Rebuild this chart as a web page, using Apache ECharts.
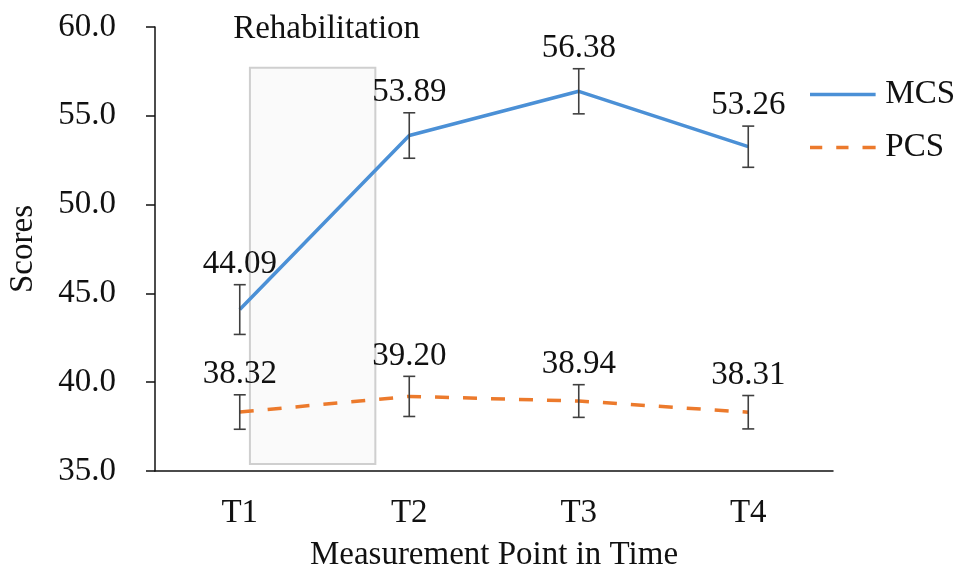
<!DOCTYPE html>
<html>
<head>
<meta charset="utf-8">
<script src="https://cdn.jsdelivr.net/npm/echarts@6/dist/echarts.min.js"></script>
<style>html,body{margin:0;padding:0;background:#fff}#c{width:965px;height:573px}</style>
</head>
<body>
<div id="c"></div>
<script>
var categories = ['T1', 'T2', 'T3', 'T4'];
var mcsValues = [44.09, 53.89, 56.38, 53.26];
var mcsErrors = [1.40, 1.28, 1.27, 1.16];
var pcsValues = [38.32, 39.20, 38.94, 38.31];
var pcsErrors = [0.97, 1.13, 0.92, 0.94];
var yTicks = [35, 40, 45, 50, 55, 60];
// rehabilitation period box, in category-index units and score units
var rehabBox = [0.06, 0.80, 35.4, 57.7];
var rehabLabel = 'Rehabilitation';

var FONT = '"Liberation Serif", "Times New Roman", serif';
var FS = 33;

function errData(vals, errs) {
  return vals.map(function (v, i) { return [i, v, errs[i]]; });
}

function errRender(params, api) {
  var i = api.value(0), v = api.value(1), e = api.value(2);
  var top = api.coord([i, v + e]);
  var bot = api.coord([i, v - e]);
  var cap = 6;
  var st = { stroke: '#404040', lineWidth: 1.6 };
  return {
    type: 'group',
    children: [
      { type: 'line', shape: { x1: top[0], y1: top[1], x2: bot[0], y2: bot[1] }, style: st },
      { type: 'line', shape: { x1: top[0] - cap, y1: top[1], x2: top[0] + cap, y2: top[1] }, style: st },
      { type: 'line', shape: { x1: bot[0] - cap, y1: bot[1], x2: bot[0] + cap, y2: bot[1] }, style: st },
      { type: 'text', style: { text: v.toFixed(2), x: top[0], y: top[1] - 4, align: 'center', verticalAlign: 'bottom', font: FS + 'px ' + FONT, fill: '#111' } }
    ]
  };
}

var chart = echarts.init(document.getElementById('c'));
chart.setOption({
  animation: false,
  backgroundColor: '#fff',
  grid: { left: 155, right: 132, top: 27, bottom: 102, containLabel: false, outerBoundsMode: 'none' },
  legend: {
    orient: 'vertical', left: 805, top: 73, itemGap: 20, itemWidth: 75, itemHeight: 3.5,
    textStyle: { fontFamily: FONT, fontSize: FS, color: '#111' },
    data: [
      { name: 'MCS', icon: 'path://M0,0L75,0L75,4L0,4Z', itemStyle: { color: '#4b90d6' } },
      { name: 'PCS', icon: 'path://M0,0L14,0L14,4L0,4ZM30,0L44,0L44,4L30,4ZM60,0L75,0L75,4L60,4Z', itemStyle: { color: '#ec7a2c' } }
    ]
  },
  xAxis: {
    type: 'category', data: categories, boundaryGap: true,
    name: 'Measurement Point in Time', nameLocation: 'middle', nameGap: 68,
    nameTextStyle: { fontFamily: FONT, fontSize: FS, color: '#111' },
    axisLine: { lineStyle: { color: '#111', width: 1.5 } },
    axisTick: { alignWithLabel: true, length: 7, lineStyle: { color: '#111', width: 1.5 } },
    axisLabel: { fontFamily: FONT, fontSize: FS, color: '#111', margin: 26 },
    splitLine: { show: false }
  },
  yAxis: {
    type: 'value', min: yTicks[0], max: yTicks[yTicks.length - 1], interval: 5,
    name: 'Scores', nameLocation: 'middle', nameGap: 115, nameRotate: 90,
    nameTextStyle: { fontFamily: FONT, fontSize: FS, color: '#111' },
    axisLine: { show: true, lineStyle: { color: '#111', width: 1.5 } },
    axisTick: { show: true, length: 9, lineStyle: { color: '#111', width: 1.5 } },
    axisLabel: { fontFamily: FONT, fontSize: FS, color: '#111', margin: 39, formatter: function (v) { return v.toFixed(1); } },
    splitLine: { show: false }
  },
  series: [
    {
      type: 'custom', name: 'rehab', silent: true, z: 1,
      data: [rehabBox],
      renderItem: function (params, api) {
        var band = api.size([1, 0])[0];
        var c0 = api.coord([0, api.value(3)]);
        var c1 = api.coord([0, api.value(2)]);
        var x0 = c0[0] + api.value(0) * band;
        var x1 = c0[0] + api.value(1) * band;
        var topPx = api.coord([0, 60])[1];
        return {
          type: 'group',
          children: [
            { type: 'rect', shape: { x: x0, y: c0[1], width: x1 - x0, height: c1[1] - c0[1] }, style: { fill: '#fafafa', stroke: '#cfcfcf', lineWidth: 2 } },
            { type: 'text', style: { text: rehabLabel, x: (x0 + x1) / 2 + 14, y: topPx + 2, align: 'center', verticalAlign: 'middle', font: FS + 'px ' + FONT, fill: '#111' } }
          ]
        };
      }
    },
    {
      type: 'line', name: 'MCS', data: mcsValues, showSymbol: false, symbol: 'none', z: 3,
      lineStyle: { color: '#4b90d6', width: 3.5 }, itemStyle: { color: '#4b90d6' }
    },
    {
      type: 'line', name: 'PCS', data: pcsValues, showSymbol: false, symbol: 'none', z: 3,
      lineStyle: { color: '#ec7a2c', width: 3.5, type: [14, 14] }, itemStyle: { color: '#ec7a2c' }
    },
    { type: 'custom', name: 'mcsErr', data: errData(mcsValues, mcsErrors), renderItem: errRender, z: 4 },
    { type: 'custom', name: 'pcsErr', data: errData(pcsValues, pcsErrors), renderItem: errRender, z: 4 }
  ]
});
</script>
</body>
</html>
